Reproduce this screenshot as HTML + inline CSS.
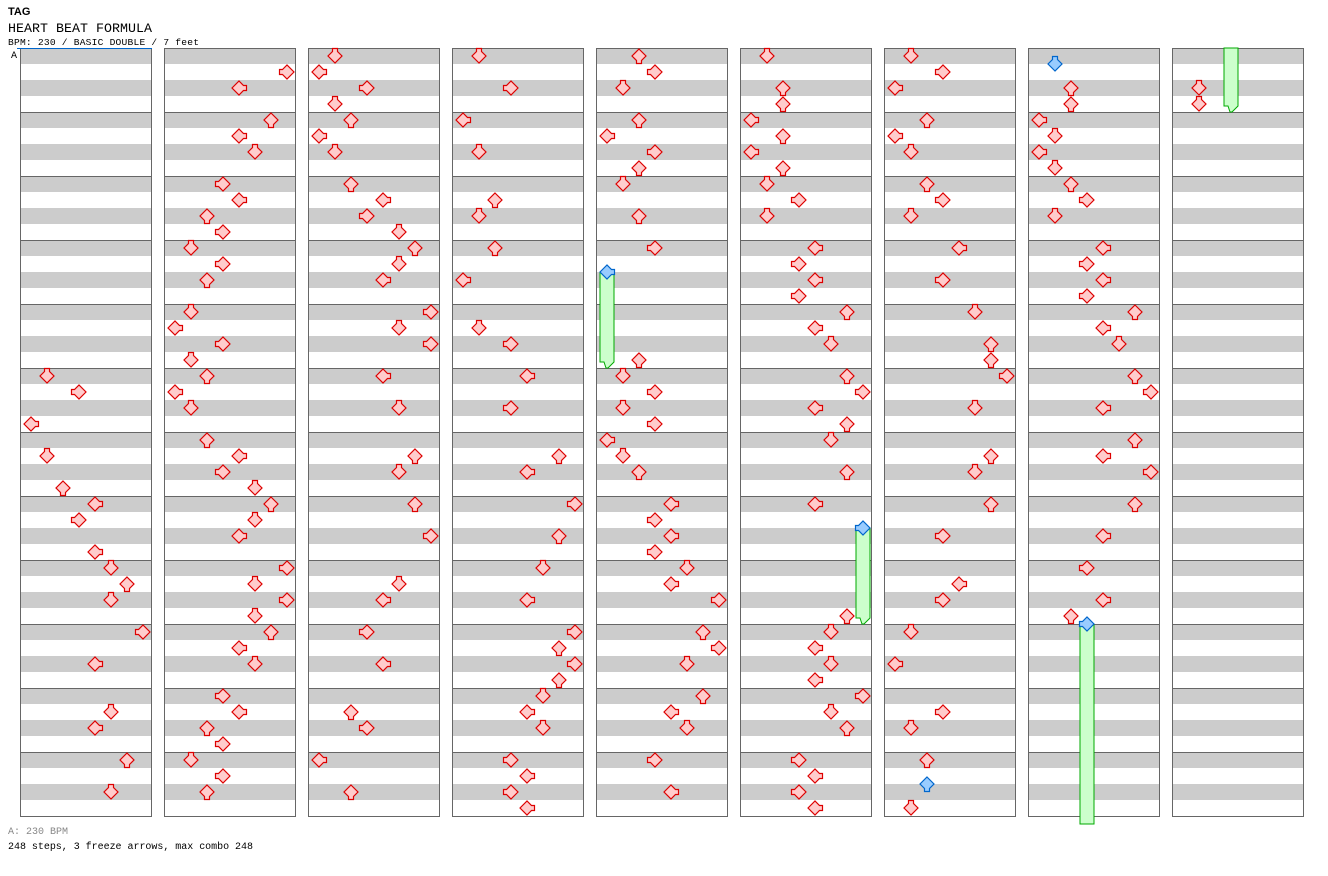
<!DOCTYPE html>
<html><head><meta charset="utf-8"><title>HEART BEAT FORMULA</title>
<style>html,body{margin:0;padding:0;background:#fff}svg{display:block}</style></head>
<body>
<svg id="chart" width="1328" height="876" viewBox="0 0 1328 876" xmlns="http://www.w3.org/2000/svg">
<text x="8" y="15" font-family="Liberation Sans, sans-serif" font-weight="bold" font-size="11">TAG</text>
<text x="8" y="32" font-family="Liberation Mono, monospace" font-size="13.3" textLength="144">HEART BEAT FORMULA</text>
<text x="8" y="45" font-family="Liberation Mono, monospace" font-size="9.6" textLength="191">BPM: 230 / BASIC DOUBLE / 7 feet</text>
<g id="cols"></g>
<line x1="17" y1="48.5" x2="152" y2="48.5" stroke="#0066cc" stroke-width="1"/>
<text x="11" y="58" font-family="Liberation Mono, monospace" font-size="10">A</text>
<g id="marks"></g>
<text x="8" y="834" font-family="Liberation Mono, monospace" font-size="10" fill="#888" textLength="60">A: 230 BPM</text>
<text x="8" y="849" font-family="Liberation Mono, monospace" font-size="10" textLength="245">248 steps, 3 freeze arrows, max combo 248</text>
</svg>
<script>
const columnCount = 9;
const rowsPerColumn = 48;
// notes: [column, row (quarter-beat), lane 0..7]
const notes = [
[0,20,1],[0,21,3],[0,23,0],[0,25,1],[0,27,2],[0,28,4],[0,29,3],[0,31,4],[0,32,5],[0,33,6],[0,34,5],[0,36,7],[0,38,4],[0,41,5],[0,42,4],[0,44,6],[0,46,5],
[1,1,7],[1,2,4],[1,4,6],[1,5,4],[1,6,5],[1,8,3],[1,9,4],[1,10,2],[1,11,3],[1,12,1],[1,13,3],[1,14,2],[1,16,1],[1,17,0],[1,18,3],[1,19,1],[1,20,2],[1,21,0],[1,22,1],[1,24,2],[1,25,4],[1,26,3],[1,27,5],[1,28,6],[1,29,5],[1,30,4],[1,32,7],[1,33,5],[1,34,7],[1,35,5],[1,36,6],[1,37,4],[1,38,5],[1,40,3],[1,41,4],[1,42,2],[1,43,3],[1,44,1],[1,45,3],[1,46,2],
[2,0,1],[2,1,0],[2,2,3],[2,3,1],[2,4,2],[2,5,0],[2,6,1],[2,8,2],[2,9,4],[2,10,3],[2,11,5],[2,12,6],[2,13,5],[2,14,4],[2,16,7],[2,17,5],[2,18,7],[2,20,4],[2,22,5],[2,25,6],[2,26,5],[2,28,6],[2,30,7],[2,33,5],[2,34,4],[2,36,3],[2,38,4],[2,41,2],[2,42,3],[2,44,0],[2,46,2],
[3,0,1],[3,2,3],[3,4,0],[3,6,1],[3,9,2],[3,10,1],[3,12,2],[3,14,0],[3,17,1],[3,18,3],[3,20,4],[3,22,3],[3,25,6],[3,26,4],[3,28,7],[3,30,6],[3,32,5],[3,34,4],[3,36,7],[3,37,6],[3,38,7],[3,39,6],[3,40,5],[3,41,4],[3,42,5],[3,44,3],[3,45,4],[3,46,3],[3,47,4],
[4,0,2],[4,1,3],[4,2,1],[4,4,2],[4,5,0],[4,6,3],[4,7,2],[4,8,1],[4,10,2],[4,12,3],[4,19,2],[4,20,1],[4,21,3],[4,22,1],[4,23,3],[4,24,0],[4,25,1],[4,26,2],[4,28,4],[4,29,3],[4,30,4],[4,31,3],[4,32,5],[4,33,4],[4,34,7],[4,36,6],[4,37,7],[4,38,5],[4,40,6],[4,41,4],[4,42,5],[4,44,3],[4,46,4],
[5,0,1],[5,2,2],[5,3,2],[5,4,0],[5,5,2],[5,6,0],[5,7,2],[5,8,1],[5,9,3],[5,10,1],[5,12,4],[5,13,3],[5,14,4],[5,15,3],[5,16,6],[5,17,4],[5,18,5],[5,20,6],[5,21,7],[5,22,4],[5,23,6],[5,24,5],[5,26,6],[5,28,4],[5,35,6],[5,36,5],[5,37,4],[5,38,5],[5,39,4],[5,40,7],[5,41,5],[5,42,6],[5,44,3],[5,45,4],[5,46,3],[5,47,4],
[6,0,1],[6,1,3],[6,2,0],[6,4,2],[6,5,0],[6,6,1],[6,8,2],[6,9,3],[6,10,1],[6,12,4],[6,14,3],[6,16,5],[6,18,6],[6,19,6],[6,20,7],[6,22,5],[6,25,6],[6,26,5],[6,28,6],[6,30,3],[6,33,4],[6,34,3],[6,36,1],[6,38,0],[6,41,3],[6,42,1],[6,44,2],[6,45.5,2],[6,47,1],
[7,0.5,1],[7,2,2],[7,3,2],[7,4,0],[7,5,1],[7,6,0],[7,7,1],[7,8,2],[7,9,3],[7,10,1],[7,12,4],[7,13,3],[7,14,4],[7,15,3],[7,16,6],[7,17,4],[7,18,5],[7,20,6],[7,21,7],[7,22,4],[7,24,6],[7,25,4],[7,26,7],[7,28,6],[7,30,4],[7,32,3],[7,34,4],[7,35,2],
[8,2,1],[8,3,1]
];
// freezes: [column, startRow, lane, endRow]
const freezes = [[4,13.5,0,19],[5,29.5,7,35],[7,35.5,3,51]];

const NS = 'http://www.w3.org/2000/svg';
function colX(c){ return 20 + 144*c; }
function laneX(c, lane){ return colX(c) + 11 + 16*lane; }
function rowY(r){ return 56 + 16*r; }
const rotations = [-90, 180, 0, 90]; // L D U R relative to up arrow
const arrowPath = 'M0,-7 L7,0 L2.5,4.5 L2.5,7.5 L-2.5,7.5 L-2.5,4.5 L-7,0 Z';

const colsG = document.getElementById('cols');
for (let c = 0; c < columnCount; c++) {
  const g = document.createElementNS(NS, 'g');
  
  
  for (let k = 0; k < rowsPerColumn; k++) {
    const r = document.createElementNS(NS, 'rect');
    
    
    r.setAttribute('x', colX(c)); r.setAttribute('y', 48 + 16*k);
    r.setAttribute('width', 132); r.setAttribute('height', 16);
    r.setAttribute('fill', k % 2 === 0 ? '#cccccc' : '#ffffff');
    g.appendChild(r);
  }
  for (let m = 1; m < 12; m++) {
    const l = document.createElementNS(NS, 'line');
    
    
    l.setAttribute('x1', colX(c)); l.setAttribute('x2', colX(c)+132);
    l.setAttribute('y1', 48 + 64*m + 0.5); l.setAttribute('y2', 48 + 64*m + 0.5);
    l.setAttribute('stroke', '#666'); l.setAttribute('stroke-width', 1);
    g.appendChild(l);
  }
  const b = document.createElementNS(NS, 'rect');
  
  
  b.setAttribute('x', colX(c)+0.5); b.setAttribute('y', 48.5);
  b.setAttribute('width', 131); b.setAttribute('height', 768);
  b.setAttribute('fill', 'none'); b.setAttribute('stroke', '#666');
  g.appendChild(b);
  colsG.appendChild(g);
}

const marks = document.getElementById('marks');
function drawArrow(c, r, lane){
  const p = document.createElementNS(NS, 'path');
  
  
  p.setAttribute('d', arrowPath);
  const blue = (r % 1) !== 0;
  p.setAttribute('fill', blue ? '#99ccff' : '#ffcccc');
  p.setAttribute('stroke', blue ? '#0066cc' : '#dd0000');
  p.setAttribute('stroke-width', 1.2);
  p.setAttribute('transform', 'translate(' + laneX(c, lane) + ',' + rowY(r) + ') rotate(' + rotations[lane % 4] + ')');
  marks.appendChild(p);
}
function freezeBody(c, lane, y0, y1, tip){
  const x = laneX(c, lane);
  const p = document.createElementNS(NS, 'path');
  
  
  let d = 'M' + (x-7) + ',' + y0 + ' L' + (x+7) + ',' + y0 + ' L' + (x+7) + ',' + y1;
  if (tip) d += ' L' + (x+1) + ',' + (y1+6) + ' L' + (x-1) + ',' + (y1+6) + ' L' + (x-3) + ',' + y1 + ' L' + (x-7) + ',' + y1;
  else d += ' L' + (x-7) + ',' + y1;
  d += ' Z';
  p.setAttribute('d', d);
  p.setAttribute('fill', '#ccffcc');
  p.setAttribute('stroke', '#00aa00');
  p.setAttribute('stroke-width', 1);
  marks.appendChild(p);
}
freezes.forEach(function(f){
  const c = f[0], s = f[1], lane = f[2], e = f[3];
  if (e < rowsPerColumn) {
    freezeBody(c, lane, rowY(s), rowY(e)+2, true);
  } else {
    freezeBody(c, lane, rowY(s), 824, false);
    freezeBody(c+1, lane, 48, rowY(e - rowsPerColumn)+2, true);
  }
});
notes.forEach(function(n){ drawArrow(n[0], n[1], n[2]); });
freezes.forEach(function(f){ drawArrow(f[0], f[1], f[2]); });
</script>
</body></html>
